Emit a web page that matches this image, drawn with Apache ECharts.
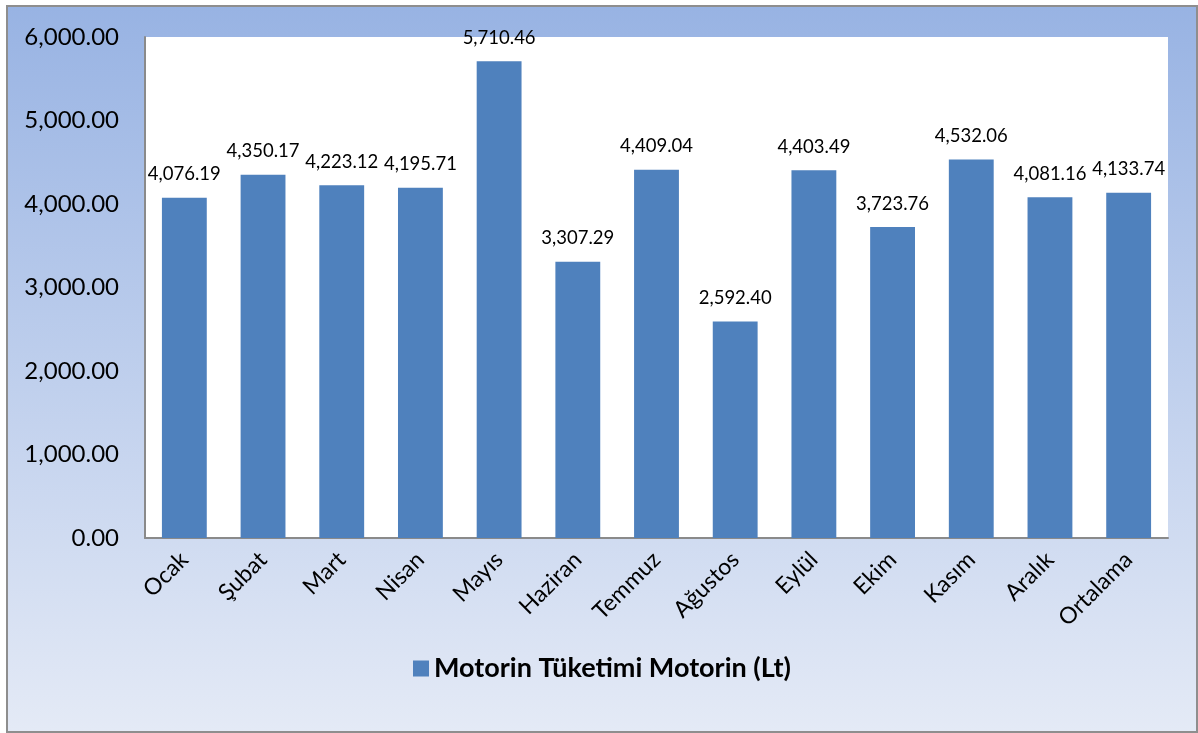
<!DOCTYPE html>
<html>
<head>
<meta charset="utf-8">
<script src="https://cdn.jsdelivr.net/npm/echarts@6/dist/echarts.min.js"></script>
<style>
  html, body { margin: 0; padding: 0; background: #fff; }
  #chart {
    position: absolute; left: 6px; top: 5px;
    width: 1188px; height: 724px;
    border: 2px solid #8e8e8e;
  }
</style>
</head>
<body>
<div id="chart"></div>
<script>
// aylar ve motorin tüketimi (Lt)
var months = ['Ocak', 'Şubat', 'Mart', 'Nisan', 'Mayıs', 'Haziran', 'Temmuz', 'Ağustos', 'Eylül', 'Ekim', 'Kasım', 'Aralık', 'Ortalama']
var consumption = [4076.19, 4350.17, 4223.12, 4195.71, 5710.46, 3307.29, 4409.04, 2592.40, 4403.49, 3723.76, 4532.06, 4081.16, 4133.74]
var seriesName = 'Motorin Tüketimi Motorin (Lt)'

var fmt = function (v) {
  return Number(v).toLocaleString('en-US', { minimumFractionDigits: 2, maximumFractionDigits: 2 })
}
var font = 'Lato, "Open Sans", sans-serif'

var chart = echarts.init(document.getElementById('chart'))
chart.setOption({
  animation: false,
  backgroundColor: new echarts.graphic.LinearGradient(0, 0, 0, 1, [
    { offset: 0, color: '#98b3e3' },
    { offset: 1, color: '#e4eaf6' }
  ]),
  textStyle: { fontFamily: font },
  grid: {
    left: 137, top: 30, right: 28, bottom: 193,
    show: true, backgroundColor: '#ffffff', borderWidth: 0
  },
  legend: {
    bottom: 44,
    left: 'center',
    itemWidth: 16, itemHeight: 16, itemGap: 10,
    icon: 'rect',
    textStyle: { fontSize: 27, fontWeight: 'bold', color: '#000', fontFamily: font },
    data: [seriesName]
  },
  xAxis: {
    type: 'category',
    data: months,
    axisLine: { show: true, lineStyle: { color: '#8a8a8a', width: 2 } },
    axisTick: { show: false },
    axisLabel: { rotate: 45, fontSize: 23, color: '#000', margin: 18, interval: 0 }
  },
  yAxis: {
    type: 'value',
    min: 0, max: 6000, interval: 1000,
    axisLine: { show: true, lineStyle: { color: '#8a8a8a', width: 2 } },
    axisTick: { show: false },
    splitLine: { show: false },
    axisLabel: { fontSize: 24, color: '#000', margin: 26, formatter: fmt }
  },
  series: [{
    name: seriesName,
    type: 'bar',
    data: consumption,
    barWidth: '57%',
    itemStyle: { color: '#4f81bd' },
    label: {
      show: true, position: 'top', distance: 14,
      fontSize: 18.5, color: '#000',
      formatter: function (p) { return fmt(p.value) }
    }
  }]
})
</script>
</body>
</html>
